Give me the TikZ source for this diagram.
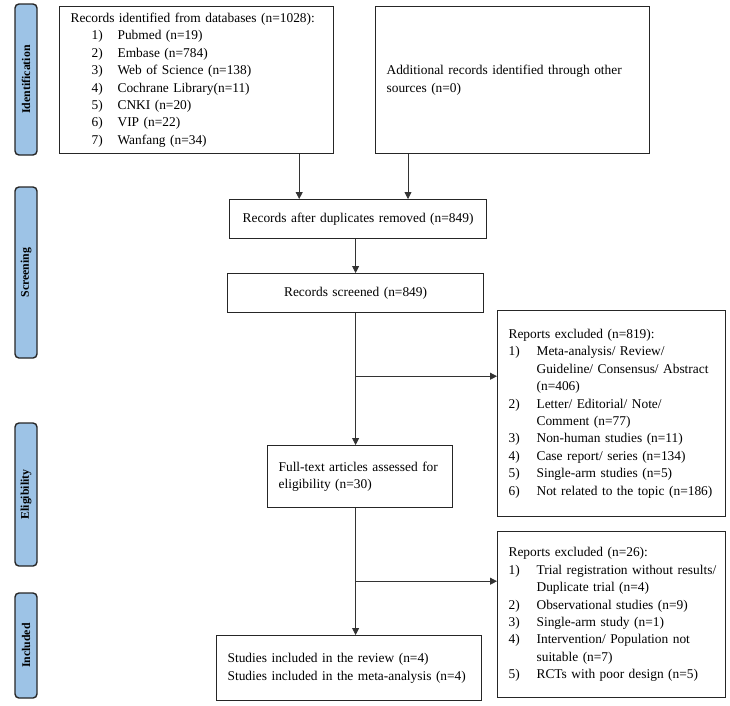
\documentclass[tikz,border=0pt]{standalone}
\usepackage{fontspec}
\setmainfont{Liberation Serif}
\usetikzlibrary{arrows.meta, positioning}

\definecolor{sideblue}{RGB}{157,195,230}
\newcommand{\itm}[2]{\makebox[28pt][l]{#1}\mbox{#2}}
\newcommand{\dbitm}[2]{\hspace*{21pt}\makebox[26pt][l]{#1}\mbox{#2}}
\newcommand{\cont}[1]{\hspace*{28pt}\mbox{#1}}

\begin{document}
\begin{tikzpicture}[x=1pt, y=-1pt,
  >={Triangle[length=7pt, width=7pt]},
  box/.style={draw=black!85, line width=1.2pt, inner xsep=11pt, inner ysep=0pt,
    align=left, anchor=north west, font=\fontsize{13.4}{17.4}\selectfont},
  side/.style={draw=black!85, fill=sideblue, line width=1.4pt, rounded corners=4pt,
    rotate=90, minimum height=22pt, inner sep=0pt,
    font=\fontsize{11.8}{14}\selectfont\bfseries},
  arr/.style={->, draw=black!80, line width=0.8pt}
 ]
 \useasboundingbox (0,0) rectangle (730,705);

 % phases
 \node [side, minimum width=151pt] (Id) at (26,79.5) {Identification};
 \node [side, minimum width=171pt] (Sc) at (26,272.5) {Screening};
 \node [side, minimum width=143pt] (El) at (26,494.5) {Eligibility};
 \node [side, minimum width=105pt] (Inc) at (26,645.5) {Included};

 \node [box, text width=252pt, minimum height=147pt] (DB) at (59,6) {%
  Records identified from databases (n=1028):\\
  \dbitm{1)}{Pubmed (n=19)}\\
  \dbitm{2)}{Embase (n=784)}\\
  \dbitm{3)}{Web of Science (n=138)}\\
  \dbitm{4)}{Cochrane Library(n=11)}\\
  \dbitm{5)}{CNKI (n=20)}\\
  \dbitm{6)}{VIP (n=22)}\\
  \dbitm{7)}{Wanfang (n=34)}};
 \node [box, text width=252pt, minimum height=147pt] (AD) at (375,6) {%
  Additional records identified through other\\
  sources (n=0)};
 \node [box, text width=235pt, minimum height=39pt, align=center] (DR) at (229,199)
  {Records after duplicates removed (n=849)};
 \node [box, text width=234pt, minimum height=39pt, align=center] (SC) at (227,273)
  {Records screened (n=849)};
 \node [box, text width=206pt, minimum height=206pt] (EX1) at (497,310) {%
  Reports excluded (n=819):\\
  \itm{1)}{Meta-analysis/ Review/}\\
  \cont{Guideline/ Consensus/ Abstract}\\
  \cont{(n=406)}\\
  \itm{2)}{Letter/ Editorial/ Note/}\\
  \cont{Comment (n=77)}\\
  \itm{3)}{Non-human studies (n=11)}\\
  \itm{4)}{Case report/ series (n=134)}\\
  \itm{5)}{Single-arm studies (n=5)}\\
  \itm{6)}{Not related to the topic (n=186)}};
 \node [box, text width=163pt, minimum height=62pt] (FT) at (267,445) {%
  Full-text articles assessed for\\
  eligibility (n=30)};
 \node [box, text width=206pt, minimum height=166pt] (EX2) at (497,531) {%
  Reports excluded (n=26):\\
  \itm{1)}{Trial registration without results/}\\
  \cont{Duplicate trial (n=4)}\\
  \itm{2)}{Observational studies (n=9)}\\
  \itm{3)}{Single-arm study (n=1)}\\
  \itm{4)}{Intervention/ Population not}\\
  \cont{suitable (n=7)}\\
  \itm{5)}{RCTs with poor design (n=5)}};
 \node [box, text width=243pt, minimum height=65pt] (IN) at (216,635) {%
  Studies included in the review (n=4)\\
  Studies included in the meta-analysis (n=4)};

 % connectors
 \draw [arr] ([xshift=-35pt]DB.south east) -- ([xshift=-35pt]DB.south east |- DR.north);
 \draw [arr] ([xshift=33pt]AD.south west) -- ([xshift=33pt]AD.south west |- DR.north);
 \draw [arr] (DR.south -| SC.north) -- (SC.north);
 \draw [arr] (SC.south) -- (SC.south |- FT.north);
 \path (SC.south) ++(0,63) coordinate (J1);
 \draw [arr] (J1) -- (J1 -| EX1.west);
 \draw [arr] (SC.south |- FT.south) -- (SC.south |- IN.north);
 \path (SC.south |- FT.south) ++(0,73) coordinate (J2);
 \draw [arr] (J2) -- (J2 -| EX2.west);
\end{tikzpicture}
\end{document}
